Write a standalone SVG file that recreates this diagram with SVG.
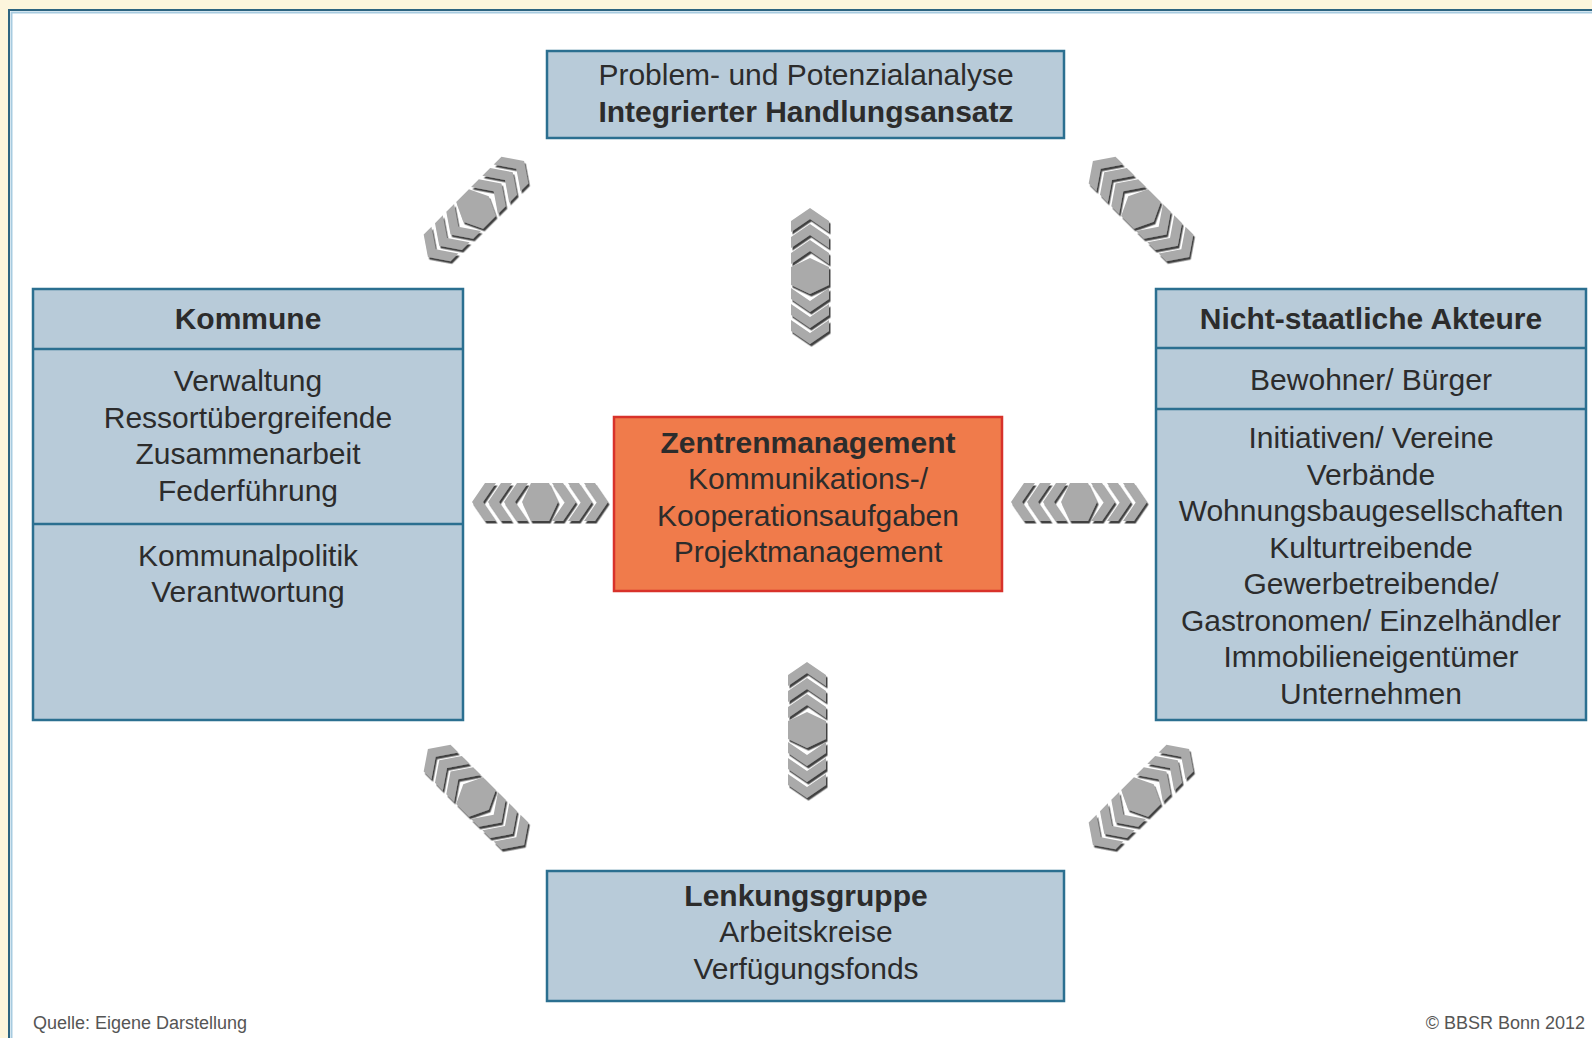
<svg xmlns="http://www.w3.org/2000/svg" xmlns:xlink="http://www.w3.org/1999/xlink" width="1592" height="1038" viewBox="0 0 1592 1038">
  <style>
    .box { fill: #b8cbd9; stroke: #2b6f90; stroke-width: 2.5; }
    .div { stroke: #2b6f90; stroke-width: 2.5; }
    .ctr { fill: #f07b4b; stroke: #d8322a; stroke-width: 2.5; }
    text { font-family: "Liberation Sans", Arial, Helvetica, sans-serif; font-size: 30px; fill: #2c2c2c; text-anchor: middle; }
    .b { font-weight: bold; }
    .foot { font-size: 18px; fill: #555555; }
    .arr { fill: #aaaaaa; }
  </style>
  <defs>
    <filter id="sh" x="-20%" y="-20%" width="140%" height="140%">
      <feDropShadow dx="1.5" dy="2.5" stdDeviation="0.6" flood-color="#1a1a1a" flood-opacity="0.85"/>
    </filter>
    <g id="arrow" class="arr">
      <polygon points="-18,0 -9,-19 9,-19 18,0 9,19 -9,19"/>
      <polygon points="23,-19 36,0 23,19 12,19 25,0 12,-19"/>
      <polygon points="39,-19 52,0 39,19 28,19 41,0 28,-19"/>
      <polygon points="55,-19 68,0 55,19 44,19 57,0 44,-19"/>
      <polygon points="-23,-19 -36,0 -23,19 -12,19 -25,0 -12,-19"/>
      <polygon points="-39,-19 -52,0 -39,19 -28,19 -41,0 -28,-19"/>
      <polygon points="-55,-19 -68,0 -55,19 -44,19 -57,0 -44,-19"/>
    </g>
  </defs>

  <!-- background and frame -->
  <rect x="0" y="0" width="1592" height="1038" fill="#fcf5dc"/>
  <rect x="9" y="10" width="1600" height="1050" fill="#ffffff" stroke="#2d6480" stroke-width="2"/>
  <rect x="11.5" y="12.5" width="1600" height="1050" fill="none" stroke="#a7cbe0" stroke-width="2"/>

  <!-- connectors -->
  <g id="connectors">
    <g filter="url(#sh)"><use xlink:href="#arrow" href="#arrow" transform="translate(540,502)"/></g>
    <g filter="url(#sh)"><use xlink:href="#arrow" href="#arrow" transform="translate(1079,502)"/></g>
    <g filter="url(#sh)"><use xlink:href="#arrow" href="#arrow" transform="translate(810,276) rotate(90)"/></g>
    <g filter="url(#sh)"><use xlink:href="#arrow" href="#arrow" transform="translate(807,730) rotate(90)"/></g>
    <g filter="url(#sh)"><use xlink:href="#arrow" href="#arrow" transform="translate(476,209) rotate(-45)"/></g>
    <g filter="url(#sh)"><use xlink:href="#arrow" href="#arrow" transform="translate(1141,209) rotate(45)"/></g>
    <g filter="url(#sh)"><use xlink:href="#arrow" href="#arrow" transform="translate(476,797) rotate(45)"/></g>
    <g filter="url(#sh)"><use xlink:href="#arrow" href="#arrow" transform="translate(1141,797) rotate(-45)"/></g>
  </g>

  <!-- top node -->
  <g id="node-analyse">
    <rect class="box" x="547" y="51" width="517" height="87"/>
    <text x="806" y="85">Problem- und Potenzialanalyse</text>
    <text class="b" x="806" y="121.5">Integrierter Handlungsansatz</text>
  </g>

  <!-- Kommune -->
  <g id="node-kommune">
    <rect class="box" x="33" y="289" width="430" height="431"/>
    <line class="div" x1="33" y1="349" x2="463" y2="349"/>
    <line class="div" x1="33" y1="524" x2="463" y2="524"/>
    <text class="b" x="248" y="329">Kommune</text>
    <text x="248" y="391">Verwaltung</text>
    <text x="248" y="427.5">Ressortübergreifende</text>
    <text x="248" y="464">Zusammenarbeit</text>
    <text x="248" y="500.5">Federführung</text>
    <text x="248" y="565.5">Kommunalpolitik</text>
    <text x="248" y="602">Verantwortung</text>
  </g>

  <!-- Nicht-staatliche Akteure -->
  <g id="node-akteure">
    <rect class="box" x="1156" y="289" width="430" height="431"/>
    <line class="div" x1="1156" y1="348" x2="1586" y2="348"/>
    <line class="div" x1="1156" y1="409" x2="1586" y2="409"/>
    <text class="b" x="1371" y="329">Nicht-staatliche Akteure</text>
    <text x="1371" y="390">Bewohner/ Bürger</text>
    <text x="1371" y="448">Initiativen/ Vereine</text>
    <text x="1371" y="484.5">Verbände</text>
    <text x="1371" y="521">Wohnungsbaugesellschaften</text>
    <text x="1371" y="557.5">Kulturtreibende</text>
    <text x="1371" y="594">Gewerbetreibende/</text>
    <text x="1371" y="630.5">Gastronomen/ Einzelhändler</text>
    <text x="1371" y="667">Immobilieneigentümer</text>
    <text x="1371" y="703.5">Unternehmen</text>
  </g>

  <!-- Zentrenmanagement -->
  <g id="node-zentrenmanagement">
    <rect class="ctr" x="614" y="417" width="388" height="174"/>
    <text class="b" x="808" y="453">Zentrenmanagement</text>
    <text x="808" y="489">Kommunikations-/</text>
    <text x="808" y="525.5">Kooperationsaufgaben</text>
    <text x="808" y="562">Projektmanagement</text>
  </g>

  <!-- Lenkungsgruppe -->
  <g id="node-lenkungsgruppe">
    <rect class="box" x="547" y="871" width="517" height="130"/>
    <text class="b" x="806" y="906">Lenkungsgruppe</text>
    <text x="806" y="942">Arbeitskreise</text>
    <text x="806" y="979">Verfügungsfonds</text>
  </g>

  <!-- footer -->
  <text class="foot" x="33" y="1029" text-anchor="start" style="text-anchor:start">Quelle: Eigene Darstellung</text>
  <text class="foot" x="1585" y="1029" text-anchor="end" style="text-anchor:end">© BBSR Bonn 2012</text>
</svg>
